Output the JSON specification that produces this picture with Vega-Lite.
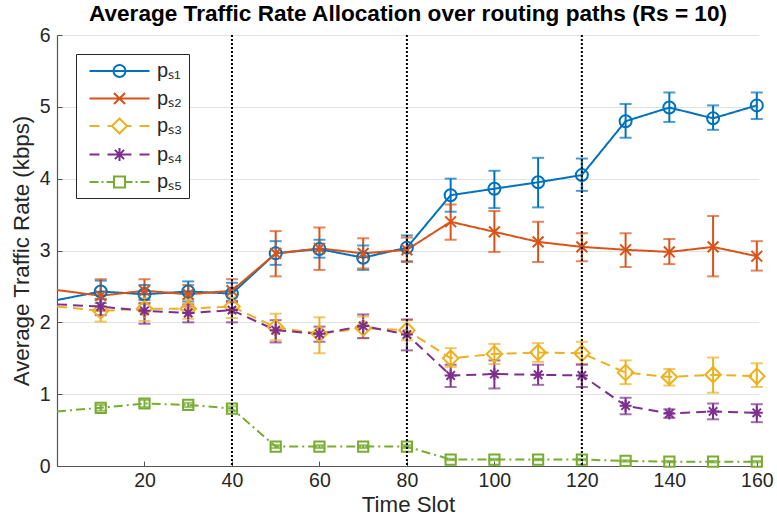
{
  "$schema": "https://vega.github.io/schema/vega-lite/v6.json",
  "width": 702,
  "height": 431,
  "autosize": "none",
  "padding": {"left": 57, "top": 35, "right": 18, "bottom": 55},
  "background": "white",
  "title": {"text": "Average Traffic Rate Allocation over routing paths (Rs = 10)", "font": "Liberation Sans", "fontSize": 22.6, "fontWeight": "bold", "color": "black", "anchor": "middle", "offset": -1},
  "config": {
    "view": {"stroke": null},
    "axis": {"labelFont": "Liberation Sans", "titleFont": "Liberation Sans", "labelFontSize": 19.5, "titleFontSize": 22.3, "titleFontWeight": "normal", "labelColor": "#262626", "titleColor": "#262626", "domainColor": "#555555", "tickColor": "#555555", "domainWidth": 1.2, "tickWidth": 1}
  },
  "datasets": {
    "main": [
      {"series": "pₛ₁", "x": 0, "y": 2.31, "lo": null, "hi": null},
      {"series": "pₛ₁", "x": 10, "y": 2.43, "lo": 2.27, "hi": 2.58},
      {"series": "pₛ₁", "x": 20, "y": 2.39, "lo": 2.26, "hi": 2.52},
      {"series": "pₛ₁", "x": 30, "y": 2.43, "lo": 2.29, "hi": 2.57},
      {"series": "pₛ₁", "x": 40, "y": 2.40, "lo": 2.28, "hi": 2.55},
      {"series": "pₛ₁", "x": 50, "y": 2.96, "lo": 2.80, "hi": 3.13},
      {"series": "pₛ₁", "x": 60, "y": 3.02, "lo": 2.90, "hi": 3.15},
      {"series": "pₛ₁", "x": 70, "y": 2.90, "lo": 2.73, "hi": 3.07},
      {"series": "pₛ₁", "x": 80, "y": 3.04, "lo": 2.85, "hi": 3.21},
      {"series": "pₛ₁", "x": 90, "y": 3.77, "lo": 3.54, "hi": 4.00},
      {"series": "pₛ₁", "x": 100, "y": 3.86, "lo": 3.59, "hi": 4.11},
      {"series": "pₛ₁", "x": 110, "y": 3.95, "lo": 3.60, "hi": 4.29},
      {"series": "pₛ₁", "x": 120, "y": 4.05, "lo": 3.83, "hi": 4.28},
      {"series": "pₛ₁", "x": 130, "y": 4.80, "lo": 4.57, "hi": 5.04},
      {"series": "pₛ₁", "x": 140, "y": 4.99, "lo": 4.79, "hi": 5.20},
      {"series": "pₛ₁", "x": 150, "y": 4.84, "lo": 4.68, "hi": 5.02},
      {"series": "pₛ₁", "x": 160, "y": 5.02, "lo": 4.83, "hi": 5.20},
      {"series": "pₛ₂", "x": 0, "y": 2.45, "lo": null, "hi": null},
      {"series": "pₛ₂", "x": 10, "y": 2.37, "lo": 2.16, "hi": 2.60},
      {"series": "pₛ₂", "x": 20, "y": 2.44, "lo": 2.27, "hi": 2.60},
      {"series": "pₛ₂", "x": 30, "y": 2.39, "lo": 2.22, "hi": 2.52},
      {"series": "pₛ₂", "x": 40, "y": 2.44, "lo": 2.28, "hi": 2.60},
      {"series": "pₛ₂", "x": 50, "y": 2.96, "lo": 2.64, "hi": 3.27},
      {"series": "pₛ₂", "x": 60, "y": 3.03, "lo": 2.73, "hi": 3.32},
      {"series": "pₛ₂", "x": 70, "y": 2.96, "lo": 2.75, "hi": 3.17},
      {"series": "pₛ₂", "x": 80, "y": 3.01, "lo": 2.84, "hi": 3.18},
      {"series": "pₛ₂", "x": 90, "y": 3.40, "lo": 3.15, "hi": 3.64},
      {"series": "pₛ₂", "x": 100, "y": 3.26, "lo": 2.98, "hi": 3.55},
      {"series": "pₛ₂", "x": 110, "y": 3.12, "lo": 2.84, "hi": 3.40},
      {"series": "pₛ₂", "x": 120, "y": 3.05, "lo": 2.85, "hi": 3.24},
      {"series": "pₛ₂", "x": 130, "y": 3.01, "lo": 2.77, "hi": 3.24},
      {"series": "pₛ₂", "x": 140, "y": 2.98, "lo": 2.81, "hi": 3.16},
      {"series": "pₛ₂", "x": 150, "y": 3.05, "lo": 2.64, "hi": 3.48},
      {"series": "pₛ₂", "x": 160, "y": 2.92, "lo": 2.72, "hi": 3.13},
      {"series": "pₛ₃", "x": 0, "y": 2.22, "lo": null, "hi": null},
      {"series": "pₛ₃", "x": 10, "y": 2.16, "lo": 2.01, "hi": 2.33},
      {"series": "pₛ₃", "x": 20, "y": 2.19, "lo": 2.02, "hi": 2.34},
      {"series": "pₛ₃", "x": 30, "y": 2.19, "lo": 2.05, "hi": 2.32},
      {"series": "pₛ₃", "x": 40, "y": 2.22, "lo": 2.06, "hi": 2.35},
      {"series": "pₛ₃", "x": 50, "y": 1.93, "lo": 1.75, "hi": 2.12},
      {"series": "pₛ₃", "x": 60, "y": 1.84, "lo": 1.57, "hi": 2.07},
      {"series": "pₛ₃", "x": 70, "y": 1.92, "lo": 1.78, "hi": 2.08},
      {"series": "pₛ₃", "x": 80, "y": 1.89, "lo": 1.75, "hi": 2.03},
      {"series": "pₛ₃", "x": 90, "y": 1.50, "lo": 1.38, "hi": 1.64},
      {"series": "pₛ₃", "x": 100, "y": 1.56, "lo": 1.42, "hi": 1.70},
      {"series": "pₛ₃", "x": 110, "y": 1.58, "lo": 1.45, "hi": 1.71},
      {"series": "pₛ₃", "x": 120, "y": 1.57, "lo": 1.42, "hi": 1.73},
      {"series": "pₛ₃", "x": 130, "y": 1.30, "lo": 1.14, "hi": 1.47},
      {"series": "pₛ₃", "x": 140, "y": 1.24, "lo": 1.12, "hi": 1.35},
      {"series": "pₛ₃", "x": 150, "y": 1.27, "lo": 1.02, "hi": 1.51},
      {"series": "pₛ₃", "x": 160, "y": 1.25, "lo": 1.10, "hi": 1.43},
      {"series": "pₛ₄", "x": 0, "y": 2.25, "lo": null, "hi": null},
      {"series": "pₛ₄", "x": 10, "y": 2.22, "lo": 2.10, "hi": 2.32},
      {"series": "pₛ₄", "x": 20, "y": 2.16, "lo": 1.98, "hi": 2.31},
      {"series": "pₛ₄", "x": 30, "y": 2.13, "lo": 2.00, "hi": 2.25},
      {"series": "pₛ₄", "x": 40, "y": 2.17, "lo": 2.00, "hi": 2.30},
      {"series": "pₛ₄", "x": 50, "y": 1.89, "lo": 1.72, "hi": 2.03},
      {"series": "pₛ₄", "x": 60, "y": 1.84, "lo": 1.73, "hi": 1.94},
      {"series": "pₛ₄", "x": 70, "y": 1.95, "lo": 1.78, "hi": 2.11},
      {"series": "pₛ₄", "x": 80, "y": 1.83, "lo": 1.61, "hi": 2.04},
      {"series": "pₛ₄", "x": 90, "y": 1.26, "lo": 1.10, "hi": 1.41},
      {"series": "pₛ₄", "x": 100, "y": 1.28, "lo": 1.08, "hi": 1.47},
      {"series": "pₛ₄", "x": 110, "y": 1.27, "lo": 1.13, "hi": 1.41},
      {"series": "pₛ₄", "x": 120, "y": 1.26, "lo": 1.10, "hi": 1.41},
      {"series": "pₛ₄", "x": 130, "y": 0.84, "lo": 0.72, "hi": 0.95},
      {"series": "pₛ₄", "x": 140, "y": 0.73, "lo": 0.67, "hi": 0.79},
      {"series": "pₛ₄", "x": 150, "y": 0.76, "lo": 0.65, "hi": 0.87},
      {"series": "pₛ₄", "x": 160, "y": 0.74, "lo": 0.61, "hi": 0.86},
      {"series": "pₛ₅", "x": 0, "y": 0.76, "lo": null, "hi": null},
      {"series": "pₛ₅", "x": 10, "y": 0.81, "lo": 0.77, "hi": 0.85},
      {"series": "pₛ₅", "x": 20, "y": 0.87, "lo": 0.82, "hi": 0.92},
      {"series": "pₛ₅", "x": 30, "y": 0.85, "lo": 0.82, "hi": 0.88},
      {"series": "pₛ₅", "x": 40, "y": 0.80, "lo": 0.77, "hi": 0.83},
      {"series": "pₛ₅", "x": 50, "y": 0.27, "lo": 0.25, "hi": 0.29},
      {"series": "pₛ₅", "x": 60, "y": 0.27, "lo": 0.25, "hi": 0.29},
      {"series": "pₛ₅", "x": 70, "y": 0.27, "lo": 0.25, "hi": 0.29},
      {"series": "pₛ₅", "x": 80, "y": 0.27, "lo": 0.25, "hi": 0.29},
      {"series": "pₛ₅", "x": 90, "y": 0.09, "lo": 0.08, "hi": 0.10},
      {"series": "pₛ₅", "x": 100, "y": 0.09, "lo": 0.08, "hi": 0.10},
      {"series": "pₛ₅", "x": 110, "y": 0.09, "lo": 0.08, "hi": 0.10},
      {"series": "pₛ₅", "x": 120, "y": 0.09, "lo": 0.08, "hi": 0.10},
      {"series": "pₛ₅", "x": 130, "y": 0.07, "lo": 0.06, "hi": 0.08},
      {"series": "pₛ₅", "x": 140, "y": 0.06, "lo": 0.05, "hi": 0.07},
      {"series": "pₛ₅", "x": 150, "y": 0.06, "lo": 0.05, "hi": 0.07},
      {"series": "pₛ₅", "x": 160, "y": 0.06, "lo": 0.05, "hi": 0.07}
    ],
    "vlines": [{"v": 40}, {"v": 80}, {"v": 120}]
  },
  "data": {"name": "main"},
  "encoding": {
    "x": {"field": "x", "type": "quantitative", "scale": {"domain": [0, 160.5], "nice": false, "zero": false},
      "axis": {"title": "Time Slot", "values": [20, 40, 60, 80, 100, 120, 140, 160], "grid": false, "tickSize": -5, "labelPadding": 10, "titlePadding": 4}},
    "y": {"field": "y", "type": "quantitative", "scale": {"domain": [0, 6], "nice": false},
      "axis": {"title": "Average Traffic Rate (kbps)", "values": [0, 1, 2, 3, 4, 5, 6], "grid": true, "gridColor": "#e2e2e2", "gridWidth": 1, "tickSize": -5, "labelPadding": 12, "titlePadding": 6}}
  },
  "layer": [
    {
      "transform": [{"filter": "datum.lo != null"}],
      "mark": {"type": "rule", "strokeWidth": 2},
      "encoding": {
        "y": {"field": "lo", "type": "quantitative"},
        "y2": {"field": "hi"},
        "stroke": {"field": "series", "type": "nominal", "legend": null, "scale": {"domain": ["pₛ₅", "pₛ₄", "pₛ₃", "pₛ₂", "pₛ₁"], "range": ["#77AC30", "#7E2F8E", "#EDB120", "#D95319", "#0072BD"]}}
      }
    },
    {
      "transform": [{"filter": "datum.lo != null"}],
      "mark": {"type": "tick", "orient": "horizontal", "size": 12, "thickness": 2},
      "encoding": {
        "y": {"field": "lo", "type": "quantitative"},
        "fill": {"field": "series", "type": "nominal", "legend": null, "scale": {"domain": ["pₛ₄", "pₛ₅", "pₛ₃", "pₛ₂", "pₛ₁"], "range": ["#7E2F8E", "#77AC30", "#EDB120", "#D95319", "#0072BD"]}}
      }
    },
    {
      "transform": [{"filter": "datum.lo != null"}],
      "mark": {"type": "tick", "orient": "horizontal", "size": 12, "thickness": 2},
      "encoding": {
        "y": {"field": "hi", "type": "quantitative"},
        "fill": {"field": "series", "type": "nominal", "legend": null}
      }
    },
    {
      "mark": {"type": "line", "strokeWidth": 2},
      "encoding": {
        "color": {"field": "series", "type": "nominal",
          "scale": {"domain": ["pₛ₁", "pₛ₂", "pₛ₃", "pₛ₄", "pₛ₅"], "range": ["#0072BD", "#D95319", "#EDB120", "#7E2F8E", "#77AC30"]},
          "legend": {
            "title": null, "orient": "top-left", "offset": 19,
            "fillColor": "white", "strokeColor": "#262626", "padding": 6, "cornerRadius": 0,
            "symbolSize": 400, "symbolStrokeWidth": 2, "symbolFillColor": "transparent", "symbolOpacity": 1,
            "labelFont": "Liberation Sans", "labelFontSize": 20, "labelColor": "#262626", "labelOffset": 53, "rowPadding": 5.5,
            "labelExpr": "datum.label + '\u2002\u2002'",
            "encode": {"symbols": {"update": {
              "shape": {"signal": "['M-0.35,0H5.65M3.25,0A0.6,0.6,0,1,1,2.05,0A0.6,0.6,0,1,1,3.25,0', 'M-0.35,0H5.65M2.1,-0.55L3.2,0.55M2.1,0.55L3.2,-0.55', 'M-0.35,0H0.65M1.45,0H1.9M3.4,0H3.85M4.65,0H5.65M2.65,-0.75L3.4,0L2.65,0.75L1.9,0Z', 'M-0.35,0H0.65M1.45,0H2M3.3,0H3.85M4.65,0H5.65M2,0H3.3M2.65,-0.65V0.65M2.19,-0.46L3.11,0.46M2.19,0.46L3.11,-0.46', 'M-0.35,0H0.55M0.85,0H1.05M1.35,0H2.1M3.2,0H3.95M4.25,0H4.45M4.75,0H5.65M2.1,-0.55H3.2V0.55H2.1Z'][datum.index]"},
              "strokeDash": {"value": []},
              "fill": {"value": "transparent"}
            }}}
          }},
        "strokeDash": {"field": "series", "type": "nominal", "legend": null, "scale": {"domain": ["pₛ₁", "pₛ₂", "pₛ₃", "pₛ₅", "pₛ₄"], "range": [[1, 0], [1, 0], [10, 6], [9, 4, 2, 4], [10, 6]]}}
      }
    },
    {
      "transform": [{"filter": "datum.x > 0"}],
      "mark": {"type": "point", "filled": false, "strokeWidth": 2, "size": 144, "opacity": 1},
      "encoding": {
        "stroke": {"field": "series", "type": "nominal", "legend": null},
        "shape": {"field": "series", "type": "nominal", "legend": null, "scale": {"domain": ["pₛ₂", "pₛ₁", "pₛ₃", "pₛ₄", "pₛ₅"], "range": [
          "M-0.9,-0.9L0.9,0.9M-0.9,0.9L0.9,-0.9",
          "M1,0A1,1,0,1,1,-1,0A1,1,0,1,1,1,0Z",
          "M0,-1.3L1.3,0L0,1.3L-1.3,0Z",
          "M-1,0H1M0,-1V1M-0.7,-0.7L0.7,0.7M-0.7,0.7L0.7,-0.7",
          "M-0.85,-0.85H0.85V0.85H-0.85Z"
        ]}}
      }
    },
    {
      "data": {"name": "vlines"},
      "mark": {"type": "rule", "color": "black", "strokeWidth": 2, "strokeDash": [2, 2]},
      "encoding": {"x": {"field": "v", "type": "quantitative"}, "y": null}
    }
  ]
}
